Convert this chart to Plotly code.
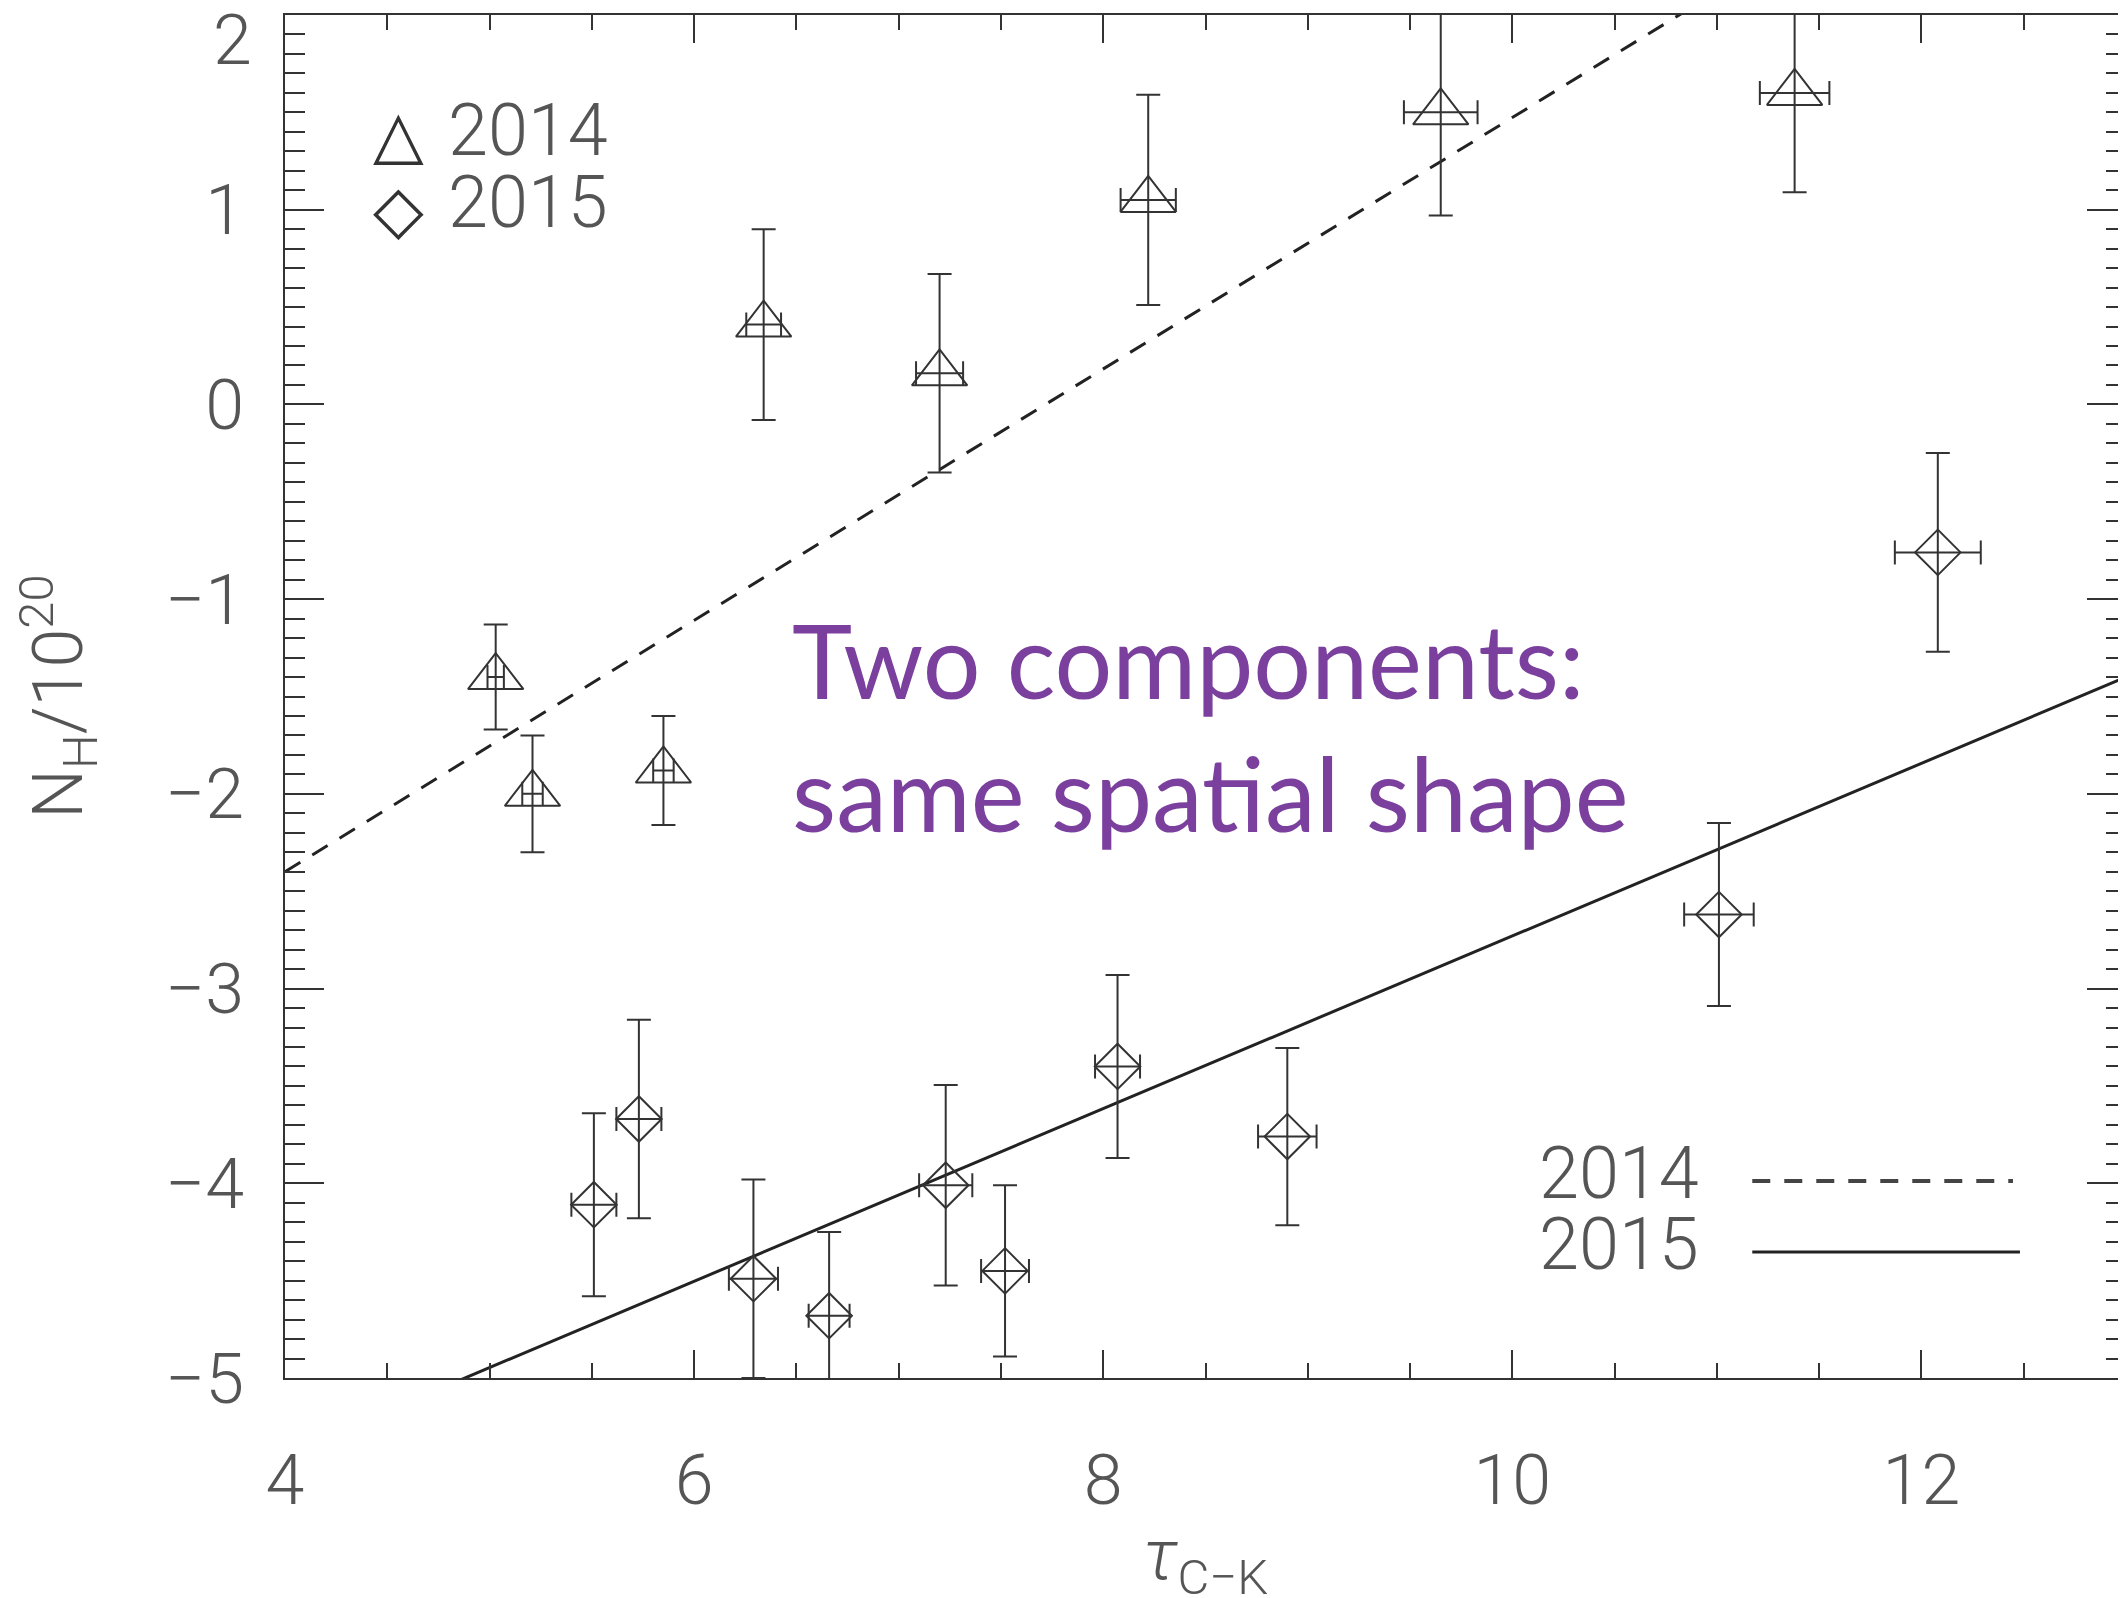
import plotly.graph_objects as go

# 2014 epoch (triangles)
tau_2014 = [5.03, 5.21, 5.85, 6.34, 7.20, 8.22, 9.65, 11.38]
nh_2014 = [-1.40, -2.00, -1.88, 0.41, 0.16, 1.05, 1.50, 1.60]
nh_err_2014 = [0.27, 0.30, 0.28, 0.49, 0.51, 0.54, 0.53, 0.51]
tau_err_2014 = [0.04, 0.05, 0.05, 0.085, 0.115, 0.135, 0.18, 0.17]

# 2015 epoch (diamonds)
tau_2015 = [5.51, 5.73, 6.29, 6.66, 7.23, 7.52, 8.07, 8.90, 11.01, 12.08]
nh_2015 = [-4.11, -3.67, -4.49, -4.68, -4.01, -4.45, -3.40, -3.76, -2.62, -0.76]
nh_err_2015 = [0.47, 0.51, 0.51, 0.43, 0.515, 0.44, 0.47, 0.455, 0.47, 0.51]
tau_err_2015 = [0.11, 0.11, 0.12, 0.10, 0.13, 0.117, 0.11, 0.143, 0.17, 0.21]

# linear fits, given at the ends of the x range
fit_tau = [4, 13]
fit_2014 = [-2.40, 3.41]
fit_2015 = [-5.39, -1.40]

y_ticks = [-5, -4, -3, -2, -1, 0, 1, 2]
# the top label sits just under the frame in the original, so it is drawn separately
y_ticktext = ["−5", "−4", "−3", "−2", "−1", "0", "1", ""]
x_ticks = [4, 6, 8, 10, 12]

INK = "#333333"
LABEL = "#555555"
PURPLE = "#7B3F9E"


def _err(values):
    return dict(type="data", array=values, visible=True, color=INK, thickness=2, width=12)


fig = go.Figure()
fig.add_scatter(x=fit_tau, y=fit_2014, mode="lines",
                line=dict(color="#222222", width=3, dash="18px,14px"))
fig.add_scatter(x=fit_tau, y=fit_2015, mode="lines",
                line=dict(color="#222222", width=3))
fig.add_scatter(
    x=tau_2014, y=nh_2014, mode="markers",
    marker=dict(symbol="triangle-up-open", size=48, color=INK, line=dict(width=2, color=INK)),
    error_y=_err(nh_err_2014), error_x=_err(tau_err_2014),
)
fig.add_scatter(
    x=tau_2015, y=nh_2015, mode="markers",
    marker=dict(symbol="diamond-open", size=35, color=INK, line=dict(width=2, color=INK)),
    error_y=_err(nh_err_2015), error_x=_err(tau_err_2015),
)

tick_font = dict(family="Roboto, Liberation Sans, sans-serif", size=70, color=LABEL, weight=300)

fig.update_xaxes(
    range=[4, 13], tickmode="array", tickvals=x_ticks,
    ticks="inside", ticklen=28, tickwidth=2, tickcolor=INK,
    minor=dict(dtick=0.5, tick0=4, ticks="inside", ticklen=15, tickwidth=2, tickcolor=INK),
    showline=True, linecolor=INK, linewidth=2, mirror="allticks",
    showgrid=False, zeroline=False, tickfont=tick_font, ticklabelstandoff=40,
    ticklabeloverflow="allow", automargin=False,
    title=dict(text="<i>τ</i><sub>C−K</sub>", font=tick_font, standoff=18),
)
fig.update_yaxes(
    range=[-5, 2], tickmode="array", tickvals=y_ticks, ticktext=y_ticktext,
    ticks="inside", ticklen=39, tickwidth=2, tickcolor=INK,
    minor=dict(dtick=0.1, tick0=0, ticks="inside", ticklen=20, tickwidth=2, tickcolor=INK),
    showline=True, linecolor=INK, linewidth=2, mirror="allticks",
    showgrid=False, zeroline=False, tickfont=tick_font, ticklabelstandoff=25,
    ticklabeloverflow="allow", automargin=False,
    title=dict(text="N<sub>H</sub>/10<sup>20</sup>", font=tick_font, standoff=62),
)

legend_font = dict(family="Roboto, Liberation Sans, sans-serif", size=72, color=LABEL, weight=300)
glyph_font = dict(family="DejaVu Sans", size=66, color=INK)
annotations = [
    dict(x=-0.0168, y=0.982, text="2", font=tick_font, xanchor="right", yanchor="middle"),
    dict(x=0.0614, y=0.912, text="△", font=glyph_font, xanchor="center", yanchor="middle"),
    dict(x=0.0875, y=0.9156, text="2014", font=legend_font, xanchor="left", yanchor="middle"),
    dict(x=0.0614, y=0.857, text="◇", font=glyph_font, xanchor="center", yanchor="middle"),
    dict(x=0.0875, y=0.8627, text="2015", font=legend_font, xanchor="left", yanchor="middle"),
    dict(x=0.769, y=0.1498, text="2014", font=legend_font, xanchor="right", yanchor="middle"),
    dict(x=0.769, y=0.0977, text="2015", font=legend_font, xanchor="right", yanchor="middle"),
    dict(x=0.2743, y=0.478, text="Two components:<br>same spatial shape",
         font=dict(family="Lato, Open Sans, sans-serif", size=102, color=PURPLE),
         xanchor="left", yanchor="middle", align="left"),
]
for ann in annotations:
    ann.update(xref="paper", yref="paper", showarrow=False)

# the page body adds an 8px offset, so margins are trimmed to match
fig.update_layout(
    width=2126, height=1598,
    margin=dict(l=277, r=8, t=7, b=228),
    paper_bgcolor="white", plot_bgcolor="white",
    showlegend=False,
    annotations=annotations,
    shapes=[
        dict(type="line", xref="paper", yref="paper", x0=0.797, x1=0.9386, y0=0.1446, y1=0.1446,
             line=dict(color="#444444", width=4, dash="18px,14px")),
        dict(type="line", xref="paper", yref="paper", x0=0.797, x1=0.9424, y0=0.0925, y1=0.0925,
             line=dict(color="#222222", width=3)),
    ],
)

fig.write_html("out.html")
